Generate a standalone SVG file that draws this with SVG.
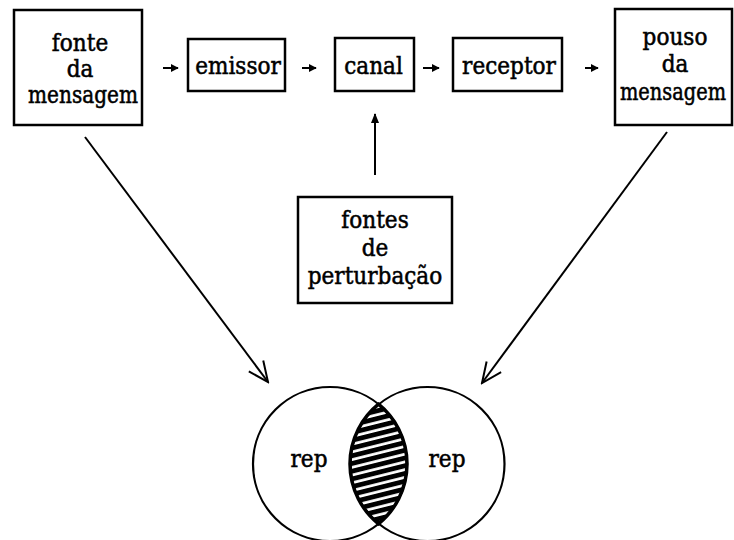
<svg xmlns="http://www.w3.org/2000/svg" width="734" height="540" viewBox="0 0 734 540">
  <style>
    .box { fill: #fff; stroke: #000; stroke-width: 2.5; }
    .lbl { font-family: "DejaVu Serif", "Liberation Serif", serif; font-stretch: condensed; font-size: 24px; fill: #000; stroke: #000; stroke-width: 0.5; text-anchor: middle; }
    .edge { stroke: #000; stroke-width: 2; fill: none; }
    .ring { fill: none; stroke: #000; stroke-width: 2.2; }
  </style>
  <defs>
    <marker id="small" viewBox="0 0 10 10" refX="9" refY="5" markerWidth="8" markerHeight="8" markerUnits="userSpaceOnUse" orient="auto">
      <path d="M0,0 L10,5 L0,10 z" fill="#000"/>
    </marker>
    <marker id="solid" viewBox="0 0 10 10" refX="9" refY="5" markerWidth="10" markerHeight="10" markerUnits="userSpaceOnUse" orient="auto">
      <path d="M0,1 L10,5 L0,9 z" fill="#000"/>
    </marker>
    <marker id="open" viewBox="0 0 24 24" refX="22" refY="12" markerWidth="24" markerHeight="24" markerUnits="userSpaceOnUse" orient="auto">
      <path d="M2,3 L22,12 L2,21" fill="none" stroke="#000" stroke-width="2"/>
    </marker>
    <pattern id="hatch" patternUnits="userSpaceOnUse" width="20" height="7.5" patternTransform="rotate(-14)">
      <rect width="20" height="7.5" fill="#fff"/>
      <rect y="0" width="20" height="4.8" fill="#000"/>
    </pattern>
  </defs>

  <g id="fonte">
    <rect class="box" x="14" y="10" width="128" height="115"/>
    <text class="lbl" x="80" y="51">fonte</text>
    <text class="lbl" x="80" y="77">da</text>
    <text class="lbl" x="83" y="103" textLength="110" lengthAdjust="spacingAndGlyphs">mensagem</text>
  </g>
  <g id="emissor">
    <rect class="box" x="188" y="39" width="97" height="52"/>
    <text class="lbl" x="238" y="74">emissor</text>
  </g>
  <g id="canal">
    <rect class="box" x="335" y="38" width="79" height="53"/>
    <text class="lbl" x="373.5" y="74">canal</text>
  </g>
  <g id="receptor">
    <rect class="box" x="453" y="38" width="109" height="53"/>
    <text class="lbl" x="509" y="74">receptor</text>
  </g>
  <g id="pouso">
    <rect class="box" x="615" y="9" width="117" height="116"/>
    <text class="lbl" x="675" y="45">pouso</text>
    <text class="lbl" x="675" y="72">da</text>
    <text class="lbl" x="673" y="100" textLength="106" lengthAdjust="spacingAndGlyphs">mensagem</text>
  </g>
  <g id="perturbacao">
    <rect class="box" x="298" y="197" width="154" height="106"/>
    <text class="lbl" x="375" y="228">fontes</text>
    <text class="lbl" x="375" y="256">de</text>
    <text class="lbl" x="375" y="284">perturbação</text>
  </g>

  <g id="repertorios">
    <path d="M378.5,404.2 A77,77 0 0,1 378.5,523.8 A77,77 0 0,1 378.5,404.2 z" fill="url(#hatch)" stroke="#000" stroke-width="3.5"/>
    <circle class="ring" cx="330" cy="464" r="77"/>
    <circle class="ring" cx="427.5" cy="464" r="77"/>
    <text class="lbl" x="309" y="467">rep</text>
    <text class="lbl" x="447" y="467">rep</text>
  </g>

  <g id="connectors">
    <line class="edge" x1="163" y1="68" x2="178" y2="68" marker-end="url(#small)"/>
    <line class="edge" x1="302" y1="68" x2="316" y2="68" marker-end="url(#small)"/>
    <line class="edge" x1="423" y1="68" x2="439" y2="68" marker-end="url(#small)"/>
    <line class="edge" x1="585" y1="68" x2="598" y2="68" marker-end="url(#small)"/>
    <line class="edge" x1="375" y1="175" x2="375" y2="114" marker-end="url(#solid)"/>
    <line class="edge" x1="85" y1="137" x2="268" y2="382" marker-end="url(#open)"/>
    <line class="edge" x1="667" y1="132" x2="482" y2="383" marker-end="url(#open)"/>
  </g>
</svg>
